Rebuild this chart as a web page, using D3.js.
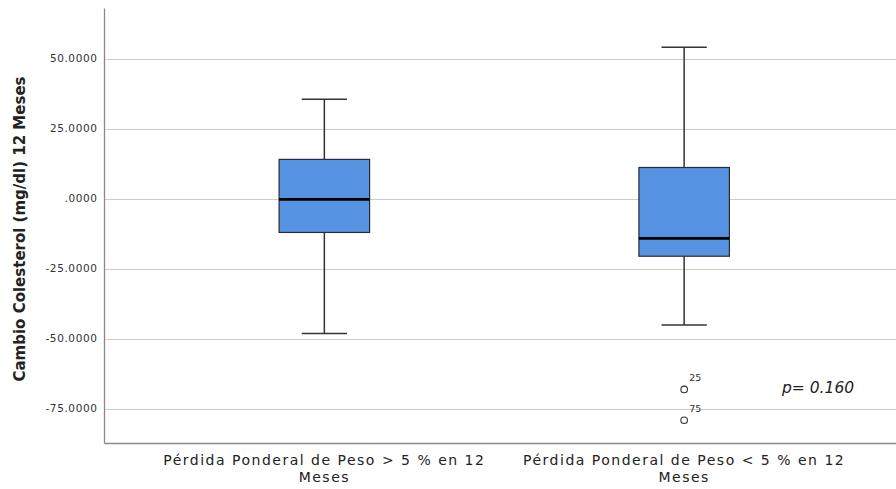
<!DOCTYPE html>
<html>
<head>
<meta charset="utf-8">
<script src="https://cdn.jsdelivr.net/npm/d3@7"></script>
<style>
  html, body { margin: 0; padding: 0; background: #fff; }
  svg { display: block; }
</style>
</head>
<body>
<svg id="chart" width="896" height="489"></svg>
<script>
// Box plot summary per group (mg/dl change after 12 months)
const categories = [
  ["Pérdida Ponderal de Peso > 5 % en 12", "Meses"],
  ["Pérdida Ponderal de Peso < 5 % en 12", "Meses"]
];
const whiskerHigh = [35.5, 54.1];
const q3Values = [14.0, 11.1];
const medianValues = [-0.3, -14.2];
const q1Values = [-12.1, -20.6];
const whiskerLow = [-48.2, -45.2];

// Outlying cases: group index, value, case number
const outlierGroup = [1, 1];
const outlierValue = [-68.2, -79.2];
const outlierCase = ["25", "75"];

const yTickValues = [-75, -50, -25, 0, 25, 50];
const yTickLabels = ["-75.0000", "-50.0000", "-25.0000", ".0000", "25.0000", "50.0000"];

const yTitle = "Cambio Colesterol (mg/dl) 12 Meses";
const pText = "p= 0.160";

const svg = d3.select("#chart");
const W = 896, H = 489;
const plotLeft = 104.5, plotRight = 904, plotTop = 8.5, plotBottom = 443.5;

const x = d3.scalePoint()
  .domain(d3.range(categories.length))
  .range([plotLeft, plotRight])
  .padding(0.611);

const y = d3.scaleLinear()
  .domain([-87.5, 67.9])
  .range([plotBottom, plotTop]);

const boxW = x.step() * 0.2515;
const capW = boxW / 2;

// grid lines
svg.append("g")
  .selectAll("line")
  .data(yTickValues)
  .join("line")
  .attr("x1", plotLeft).attr("x2", W)
  .attr("y1", d => Math.round(y(d)) + 0.5)
  .attr("y2", d => Math.round(y(d)) + 0.5)
  .attr("stroke", "#cccccc")
  .attr("stroke-width", 1.2);

// y axis with custom labels
const yAxis = d3.axisLeft(y)
  .tickValues(yTickValues)
  .tickSize(0)
  .tickPadding(7)
  .tickFormat(d => yTickLabels[yTickValues.indexOf(d)]);

const gy = svg.append("g")
  .attr("transform", `translate(${plotLeft},0)`)
  .call(yAxis);
gy.select(".domain").remove();
gy.selectAll("text")
  .attr("font-family", "DejaVu Sans, sans-serif")
  .attr("font-size", 10.5)
  .attr("letter-spacing", 0.6)
  .attr("fill", "#333");

// axis frame lines
svg.append("line")
  .attr("x1", plotLeft).attr("x2", plotLeft)
  .attr("y1", plotTop).attr("y2", plotBottom)
  .attr("stroke", "#8a8a8a").attr("stroke-width", 1.3);
svg.append("line")
  .attr("x1", plotLeft).attr("x2", W)
  .attr("y1", plotBottom).attr("y2", plotBottom)
  .attr("stroke", "#8a8a8a").attr("stroke-width", 1.3);

// boxes
const groups = svg.append("g")
  .selectAll("g")
  .data(d3.range(categories.length))
  .join("g");

// whisker stems
groups.append("line")
  .attr("x1", i => x(i)).attr("x2", i => x(i))
  .attr("y1", i => y(whiskerHigh[i])).attr("y2", i => y(q3Values[i]))
  .attr("stroke", "#333").attr("stroke-width", 1.5);
groups.append("line")
  .attr("x1", i => x(i)).attr("x2", i => x(i))
  .attr("y1", i => y(q1Values[i])).attr("y2", i => y(whiskerLow[i]))
  .attr("stroke", "#333").attr("stroke-width", 1.5);
// caps
groups.append("line")
  .attr("x1", i => x(i) - capW / 2).attr("x2", i => x(i) + capW / 2)
  .attr("y1", i => y(whiskerHigh[i])).attr("y2", i => y(whiskerHigh[i]))
  .attr("stroke", "#333").attr("stroke-width", 1.5);
groups.append("line")
  .attr("x1", i => x(i) - capW / 2).attr("x2", i => x(i) + capW / 2)
  .attr("y1", i => y(whiskerLow[i])).attr("y2", i => y(whiskerLow[i]))
  .attr("stroke", "#333").attr("stroke-width", 1.5);
// box
groups.append("rect")
  .attr("x", i => x(i) - boxW / 2)
  .attr("width", boxW)
  .attr("y", i => y(q3Values[i]))
  .attr("height", i => y(q1Values[i]) - y(q3Values[i]))
  .attr("fill", "#5694e3")
  .attr("stroke", "#2b2b2b")
  .attr("stroke-width", 1.2);
// median
groups.append("line")
  .attr("x1", i => x(i) - boxW / 2).attr("x2", i => x(i) + boxW / 2)
  .attr("y1", i => y(medianValues[i])).attr("y2", i => y(medianValues[i]))
  .attr("stroke", "#000").attr("stroke-width", 2.8);

// outliers
const outG = svg.append("g")
  .selectAll("g")
  .data(d3.range(outlierValue.length))
  .join("g");
outG.append("circle")
  .attr("cx", i => x(outlierGroup[i]))
  .attr("cy", i => y(outlierValue[i]))
  .attr("r", 3.3)
  .attr("fill", "none")
  .attr("stroke", "#333")
  .attr("stroke-width", 1.1);
outG.append("text")
  .attr("x", i => x(outlierGroup[i]) + 5)
  .attr("y", i => y(outlierValue[i]) - 8)
  .attr("font-family", "DejaVu Sans, sans-serif")
  .attr("font-size", 9.5)
  .attr("fill", "#333")
  .text(i => outlierCase[i]);

// p-value annotation
svg.append("text")
  .attr("x", 782)
  .attr("y", 393)
  .attr("font-family", "DejaVu Sans, sans-serif")
  .attr("font-style", "italic")
  .attr("font-size", 15.5)
  .attr("fill", "#222")
  .text(pText);

// category labels (two lines each)
const xl = svg.append("g")
  .selectAll("text")
  .data(d3.range(categories.length))
  .join("text")
  .attr("x", i => x(i))
  .attr("y", 465)
  .attr("text-anchor", "middle")
  .attr("font-family", "DejaVu Sans, sans-serif")
  .attr("font-size", 14)
  .attr("letter-spacing", 1.5)
  .attr("fill", "#222");
xl.selectAll("tspan")
  .data(i => categories[i].map(t => ({ t, i })))
  .join("tspan")
  .attr("x", d => x(d.i))
  .attr("dy", (d, k) => k === 0 ? 0 : 16.5)
  .text(d => d.t);

// y title
svg.append("text")
  .attr("transform", `translate(25,${(plotTop + plotBottom) / 2 + 3}) rotate(-90)`)
  .attr("text-anchor", "middle")
  .attr("font-family", "DejaVu Sans, sans-serif")
  .attr("font-weight", "bold")
  .attr("font-size", 15)
  .attr("fill", "#222")
  .text(yTitle);
</script>
</body>
</html>
